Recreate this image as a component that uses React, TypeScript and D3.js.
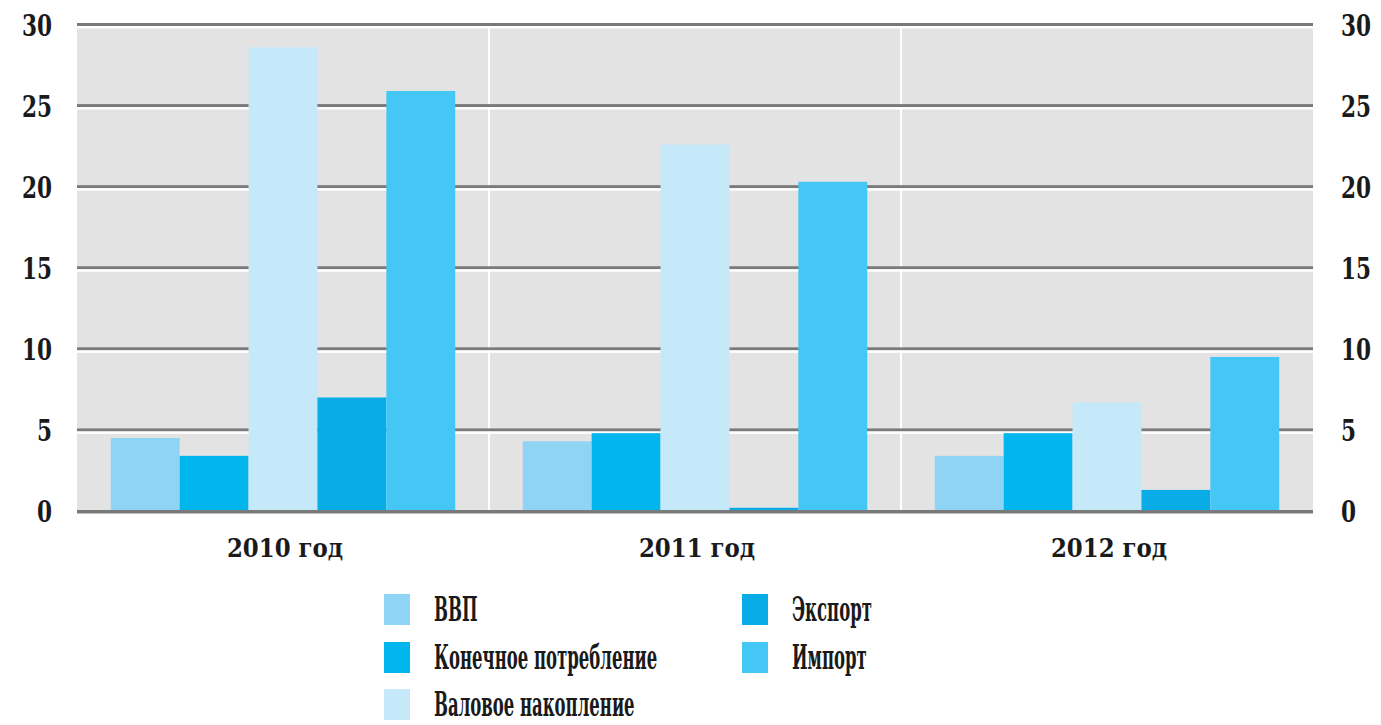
import React, { useEffect, useRef } from "react";
import * as d3 from "d3";

const years = ["2010 год", "2011 год", "2012 год"];
const seriesNames = ["ВВП", "Конечное потребление", "Валовое накопление", "Экспорт", "Импорт"];
const seriesColors = ["#8fd4f5", "#00b6ed", "#c6e9fa", "#09ace7", "#44c7f4"];
const vvp = [4.5, 4.3, 3.4];
const consumption = [3.4, 4.8, 4.8];
const accumulation = [28.6, 22.6, 6.7];
const exportVals = [7.0, 0.2, 1.3];
const importVals = [25.9, 20.3, 9.5];
const yTicks = [0, 5, 10, 15, 20, 25, 30];

const W = 1381;
const H = 725;

export default function App() {
  const ref = useRef<SVGSVGElement>(null);

  useEffect(() => {
    const svg = d3.select(ref.current);
    svg.selectAll("*").remove();

    const series = [vvp, consumption, accumulation, exportVals, importVals];
    const left = 77, right = 1313, top = 24.5, bottom = 511;

    const x0 = d3.scaleBand().domain(years).range([left, right]).padding(0);
    const x1 = d3
      .scaleBand()
      .domain(seriesNames)
      .range([0, x0.bandwidth()])
      .paddingInner(0)
      .paddingOuter(0.49);
    const y = d3.scaleLinear().domain([0, 30]).range([bottom, top]);

    const font = "DejaVu Serif";

    // gray background
    svg.append("rect")
      .attr("x", left).attr("y", y(30) + 3)
      .attr("width", right - left).attr("height", y(0) - y(30) - 3)
      .attr("fill", "#e3e3e3");

    // white separators between years
    years.slice(1).forEach((yr) => {
      svg.append("rect")
        .attr("x", (x0(yr) as number) - 1).attr("y", y(30) + 3)
        .attr("width", 2).attr("height", y(0) - y(30) - 3)
        .attr("fill", "#ffffff");
    });

    // gridlines
    const grid = svg.append("g");
    yTicks.filter((t) => t > 0).forEach((t) => {
      grid.append("rect")
        .attr("x", left).attr("y", y(t) - 1.5)
        .attr("width", right - left).attr("height", 3)
        .attr("fill", "#7a7a7a");
      grid.append("rect")
        .attr("x", left).attr("y", y(t) + 1.5)
        .attr("width", right - left).attr("height", 2.5)
        .attr("fill", "#ffffff");
    });

    // bars
    const bars = svg.append("g");
    years.forEach((yr, i) => {
      seriesNames.forEach((name, j) => {
        const v = series[j][i];
        bars.append("rect")
          .attr("x", (x0(yr) as number) + (x1(name) as number))
          .attr("y", y(v))
          .attr("width", x1.bandwidth())
          .attr("height", y(0) - y(v))
          .attr("fill", seriesColors[j]);
      });
    });

    // zero line
    svg.append("rect")
      .attr("x", left).attr("y", y(0) - 1)
      .attr("width", right - left).attr("height", 3.5)
      .attr("fill", "#7a7a7a");

    // tick labels left and right
    yTicks.forEach((t) => {
      svg.append("text")
        .attr("transform", `translate(52,${y(t) + 11}) scale(0.72,1)`)
        .attr("text-anchor", "end")
        .attr("font-family", font).attr("font-weight", "bold")
        .attr("font-size", 30).attr("fill", "#1a1a1a")
        .text(t);
      svg.append("text")
        .attr("transform", `translate(1341,${y(t) + 11}) scale(0.72,1)`)
        .attr("text-anchor", "start")
        .attr("font-family", font).attr("font-weight", "bold")
        .attr("font-size", 30).attr("fill", "#1a1a1a")
        .text(t);
    });

    // category labels
    years.forEach((yr) => {
      svg.append("text")
        .attr("transform", `translate(${(x0(yr) as number) + x0.bandwidth() / 2 + 2},557) scale(0.88,1)`)
        .attr("text-anchor", "middle")
        .attr("font-family", font).attr("font-weight", "bold")
        .attr("font-size", 26).attr("fill", "#1a1a1a")
        .text(yr);
    });

    // legend
    const cols = [384, 742];
    const rowY = [594, 642, 689];
    seriesNames.forEach((name, j) => {
      const col = j < 3 ? 0 : 1;
      const row = j < 3 ? j : j - 3;
      const g = svg.append("g").attr("transform", `translate(${cols[col]},${rowY[row]})`);
      g.append("rect").attr("width", 26).attr("height", 31).attr("fill", seriesColors[j]);
      g.append("text")
        .attr("transform", "translate(50,27) scale(0.5,1)")
        .attr("font-family", font).attr("font-weight", "bold")
        .attr("font-size", 33).attr("fill", "#1a1a1a")
        .text(name);
    });
  }, []);

  return (
    <svg
      ref={ref}
      width={W}
      height={H}
      style={{ position: "absolute", left: 0, top: 0, background: "#fff" }}
    />
  );
}
